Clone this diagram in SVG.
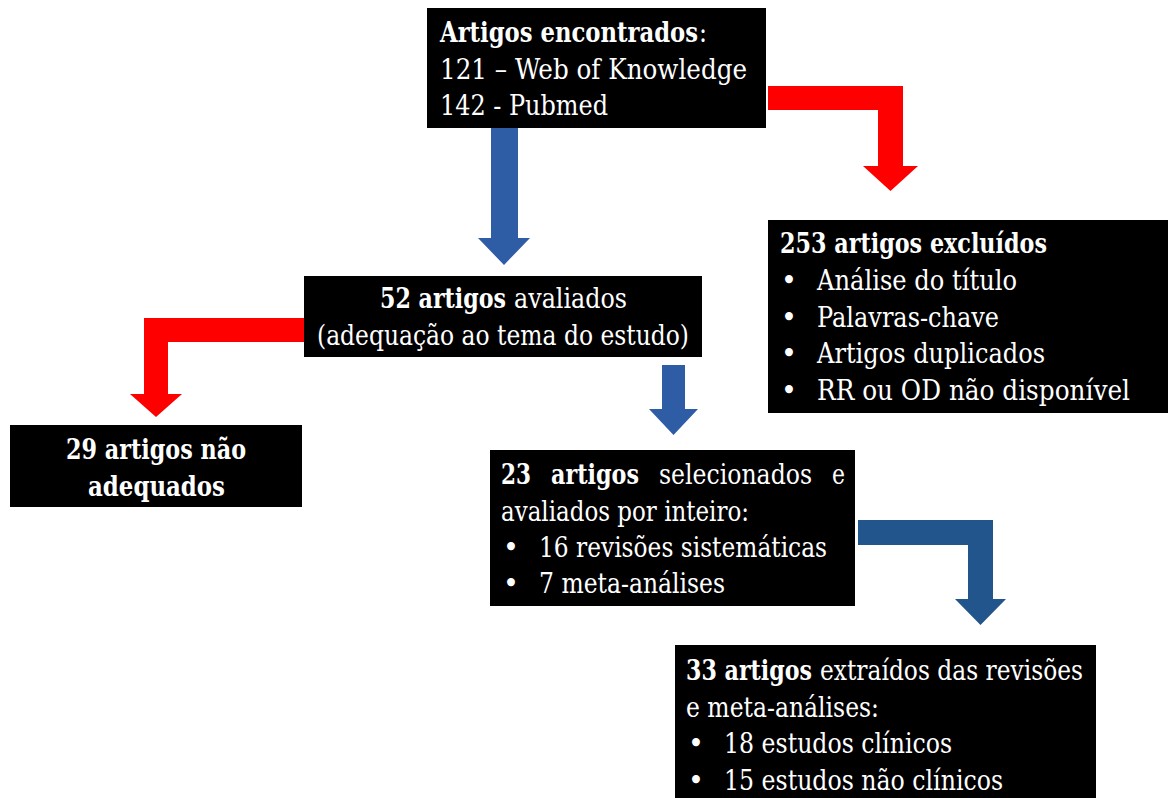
<svg xmlns="http://www.w3.org/2000/svg" width="1168" height="798" viewBox="0 0 1168 798">
<style>
.box{fill:#000}
.t text{font-size:27px;fill:#fff}
.b{font-weight:bold}
.red{fill:#ff0000}
.blue{fill:#2e5ca5}
.dblue{fill:#22558c}
</style>
<rect width="1168" height="798" fill="#fff"/>
<g id="connectors">
<polygon class="blue" points="491,128 518,128 518,238 530,238 504,265 478,238 491,238"/>
<polygon class="red" points="768,86 903,86 903,166 918,166 890.5,191 863,166 878,166 878,110 768,110"/>
<polygon class="red" points="304,318 304,342 168,342 168,394 182,394 156,417 130,394 144,394 144,318"/>
<polygon class="blue" points="662,365 685,365 685,409 698,409 673.5,435 649,409 662,409"/>
<polygon class="dblue" points="858,520 993,520 993,599 1006,599 980.5,625 955,599 968,599 968,545 858,545"/>
</g>
<g class="t" font-family="DejaVu Serif, Liberation Serif, serif">
<g id="node-encontrados">
<rect class="box" x="427" y="8" width="339" height="120"/>
<text x="440" y="42" class="b" textLength="258" lengthAdjust="spacingAndGlyphs">Artigos encontrados</text>
<text x="699" y="42" textLength="8" lengthAdjust="spacingAndGlyphs">:</text>
<text x="440" y="79" textLength="307" lengthAdjust="spacingAndGlyphs">121 – Web of Knowledge</text>
<text x="440" y="115" textLength="168" lengthAdjust="spacingAndGlyphs">142 - Pubmed</text>
</g>
<g id="node-excluidos">
<rect class="box" x="768" y="220" width="400" height="193"/>
<text x="780" y="253" class="b" textLength="267" lengthAdjust="spacingAndGlyphs">253 artigos excluídos</text>
<text x="781" y="290">•</text><text x="817" y="290" textLength="200" lengthAdjust="spacingAndGlyphs">Análise do título</text>
<text x="781" y="327">•</text><text x="817" y="327" textLength="182" lengthAdjust="spacingAndGlyphs">Palavras-chave</text>
<text x="781" y="363">•</text><text x="817" y="363" textLength="228" lengthAdjust="spacingAndGlyphs">Artigos duplicados</text>
<text x="781" y="400">•</text><text x="817" y="400" textLength="313" lengthAdjust="spacingAndGlyphs">RR ou OD não disponível</text>
</g>
<g id="node-avaliados">
<rect class="box" x="304" y="276" width="398" height="81"/>
<text x="380" y="308" class="b" textLength="126" lengthAdjust="spacingAndGlyphs">52 artigos</text>
<text x="514" y="308" textLength="113" lengthAdjust="spacingAndGlyphs">avaliados</text>
<text x="317" y="345" textLength="372" lengthAdjust="spacingAndGlyphs">(adequação ao tema do estudo)</text>
</g>
<g id="node-nao-adequados">
<rect class="box" x="10" y="425" width="292" height="82"/>
<text x="66" y="459" class="b" textLength="180" lengthAdjust="spacingAndGlyphs">29 artigos não</text>
<text x="88" y="496" class="b" textLength="137" lengthAdjust="spacingAndGlyphs">adequados</text>
</g>
<g id="node-selecionados">
<rect class="box" x="490" y="450" width="365" height="156"/>
<text x="501" y="484" class="b" textLength="30" lengthAdjust="spacingAndGlyphs">23</text>
<text x="551" y="484" class="b" textLength="88" lengthAdjust="spacingAndGlyphs">artigos</text>
<text x="659" y="484" textLength="153" lengthAdjust="spacingAndGlyphs">selecionados</text>
<text x="832" y="484" textLength="13" lengthAdjust="spacingAndGlyphs">e</text>
<text x="501" y="521" textLength="248" lengthAdjust="spacingAndGlyphs">avaliados por inteiro:</text>
<text x="503" y="557">•</text><text x="539" y="557" textLength="288" lengthAdjust="spacingAndGlyphs">16 revisões sistemáticas</text>
<text x="503" y="593">•</text><text x="539" y="593" textLength="186" lengthAdjust="spacingAndGlyphs">7 meta-análises</text>
</g>
<g id="node-extraidos">
<rect class="box" x="675" y="645" width="421" height="153"/>
<text x="686" y="680" class="b" textLength="126" lengthAdjust="spacingAndGlyphs">33 artigos</text>
<text x="820" y="680" textLength="263" lengthAdjust="spacingAndGlyphs">extraídos das revisões</text>
<text x="686" y="717" textLength="193" lengthAdjust="spacingAndGlyphs">e meta-análises:</text>
<text x="688" y="753">•</text><text x="724" y="753" textLength="228" lengthAdjust="spacingAndGlyphs">18 estudos clínicos</text>
<text x="688" y="790">•</text><text x="724" y="790" textLength="279" lengthAdjust="spacingAndGlyphs">15 estudos não clínicos</text>
</g>
</g>
</svg>
